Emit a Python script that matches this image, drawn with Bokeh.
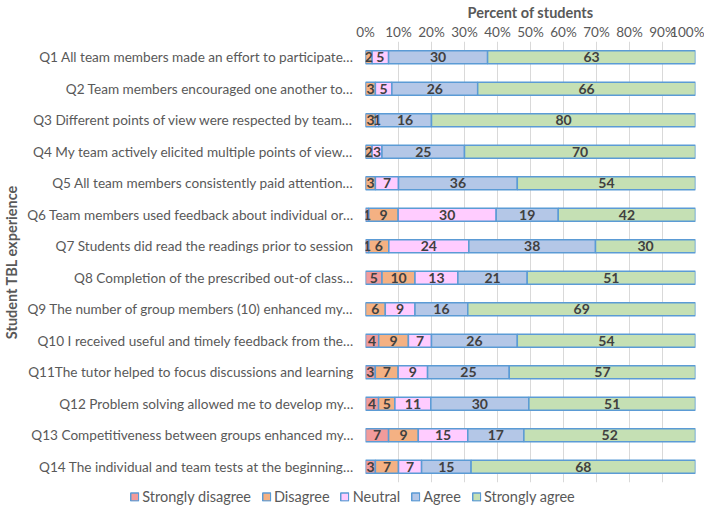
from bokeh.plotting import figure
from bokeh.models import (ColumnDataSource, FactorRange, Legend, LegendItem,
                          FixedTicker, CustomJSTickFormatter)
from bokeh.core.properties import value
from bokeh.embed import file_html
from bokeh.resources import INLINE

questions = [
    "Q1 All team members made an effort to participate\u2026",
    "Q2 Team members encouraged one another to\u2026",
    "Q3 Different points of view were respected by team\u2026",
    "Q4 My team actively elicited multiple points of view\u2026",
    "Q5 All team members consistently paid attention\u2026",
    "Q6 Team members used feedback about individual or\u2026",
    "Q7 Students did read the readings prior to session",
    "Q8 Completion of the prescribed out-of class\u2026",
    "Q9 The number of group members (10) enhanced my\u2026",
    "Q10 I received useful and timely feedback from the\u2026",
    "Q11The tutor helped to focus discussions and learning",
    "Q12 Problem solving allowed me to develop my\u2026",
    "Q13 Competitiveness between groups enhanced my\u2026",
    "Q14 The individual and team tests at the beginning\u2026",
]
strongly_disagree = [0, 0, 0, 0, 0, 1, 1, 5, 0, 4, 3, 4, 7, 3]
disagree = [2, 3, 3, 2, 3, 9, 6, 10, 6, 9, 7, 5, 9, 7]
neutral = [5, 5, 1, 3, 7, 30, 24, 13, 9, 7, 9, 11, 15, 7]
agree = [30, 26, 16, 25, 36, 19, 38, 21, 16, 26, 25, 30, 17, 15]
strongly_agree = [63, 66, 80, 70, 54, 42, 30, 51, 69, 54, 57, 51, 52, 68]

series_names = ["Strongly disagree", "Disagree", "Neutral", "Agree", "Strongly agree"]
series_values = [strongly_disagree, disagree, neutral, agree, strongly_agree]
colors = ["#F29B9B", "#F4B183", "#FFCCFF", "#B4C7E7", "#C5E0B4"]
x_ticks = [0, 10, 20, 30, 40, 50, 60, 70, 80, 90, 100]

FONT = "Lato"
GREY = "#595959"
EDGE = "#5B9BD5"

# normalise to 100 % stacked
totals = [sum(v[i] for v in series_values) for i in range(len(questions))]
keys = ["s%d" % k for k in range(len(series_names))]
data = {"q": questions}
for k, vals in zip(keys, series_values):
    data[k] = [vals[i] * 100.0 / totals[i] for i in range(len(questions))]
source = ColumnDataSource(data)

p = figure(width=704, height=484, output_backend="svg", toolbar_location=None,
           y_range=FactorRange(factors=list(reversed(questions)), range_padding=0),
           x_range=(0, 100), x_axis_location="above",
           min_border_left=364, min_border_right=9, min_border_top=10, min_border_bottom=2)
p.outline_line_color = None
p.background_fill_color = "white"

renderers = p.hbar_stack(keys, y="q", height=0.42, source=source,
                         fill_color=colors, line_color=EDGE, line_width=1.5)

# data labels
lx, ly, lt = [], [], []
for i, q in enumerate(questions):
    left = 0.0
    for k, vals in zip(keys, series_values):
        w = data[k][i]
        if vals[i] > 0:
            lx.append(left + w / 2.0)
            ly.append(q)
            lt.append(str(vals[i]))
        left += w
lab_src = ColumnDataSource(dict(x=lx, y=ly, t=lt))
p.text(x="x", y="y", text="t", source=lab_src, text_align="center", text_baseline="middle",
       text_font=value(FONT), text_font_style="bold", text_font_size="14px", text_color="#404040")

# axes
p.xaxis.ticker = FixedTicker(ticks=x_ticks)
p.xaxis.formatter = CustomJSTickFormatter(code="return tick + '%';")
p.xaxis.axis_label = "Percent of students"
p.xaxis.axis_label_text_font = FONT
p.xaxis.axis_label_text_font_style = "bold"
p.xaxis.axis_label_text_font_size = "14.5px"
p.xaxis.axis_label_text_color = GREY
p.xaxis.axis_label_standoff = 0
p.xaxis.major_label_text_font = FONT
p.xaxis.major_label_text_font_size = "13.5px"
p.xaxis.major_label_text_color = GREY
p.xaxis.major_label_standoff = 2
p.xaxis.axis_line_color = None
p.xaxis.major_tick_line_color = None
p.xaxis.minor_tick_line_color = None
p.xaxis.major_tick_in = 0
p.xaxis.major_tick_out = 0

p.yaxis.axis_label = "Student TBL experience"
p.yaxis.axis_label_text_font = FONT
p.yaxis.axis_label_text_font_style = "bold"
p.yaxis.axis_label_text_font_size = "14.5px"
p.yaxis.axis_label_text_color = GREY
p.yaxis.axis_label_standoff = 4
p.yaxis.major_label_text_font = FONT
p.yaxis.major_label_text_font_size = "13.6px"
p.yaxis.major_label_text_color = GREY
p.yaxis.major_label_standoff = 12
p.yaxis.axis_line_color = None
p.yaxis.major_tick_line_color = None
p.yaxis.major_tick_in = 0
p.yaxis.major_tick_out = 0

p.xgrid.grid_line_color = "#D9D9D9"
p.xgrid.grid_line_width = 1
p.ygrid.grid_line_color = None

# legend strip: a separate root figure whose frame spans the full width
lg = figure(width=704, height=24, output_backend="svg", toolbar_location=None,
            x_range=(0, 1), y_range=(0, 1), min_border=0)
lg.axis.visible = False
lg.grid.visible = False
lg.outline_line_color = None
nan = float("nan")
dummy = ColumnDataSource(dict(x=[nan], y=[nan]))
leg_rs = [lg.rect(x="x", y="y", width=1, height=1, source=dummy,
                  fill_color=c, line_color=EDGE, line_width=1.5) for c in colors]
legend = Legend(items=[LegendItem(label=n, renderers=[r]) for n, r in zip(series_names, leg_rs)],
                orientation="horizontal", location="center",
                label_text_font=FONT, label_text_font_size="14.5px", label_text_color=GREY,
                glyph_width=10, glyph_height=10, spacing=10, label_standoff=3,
                border_line_color=None, background_fill_alpha=0, padding=0, margin=0)
lg.add_layout(legend, "center")

open("out.html", "w").write(file_html((p, lg), INLINE))
